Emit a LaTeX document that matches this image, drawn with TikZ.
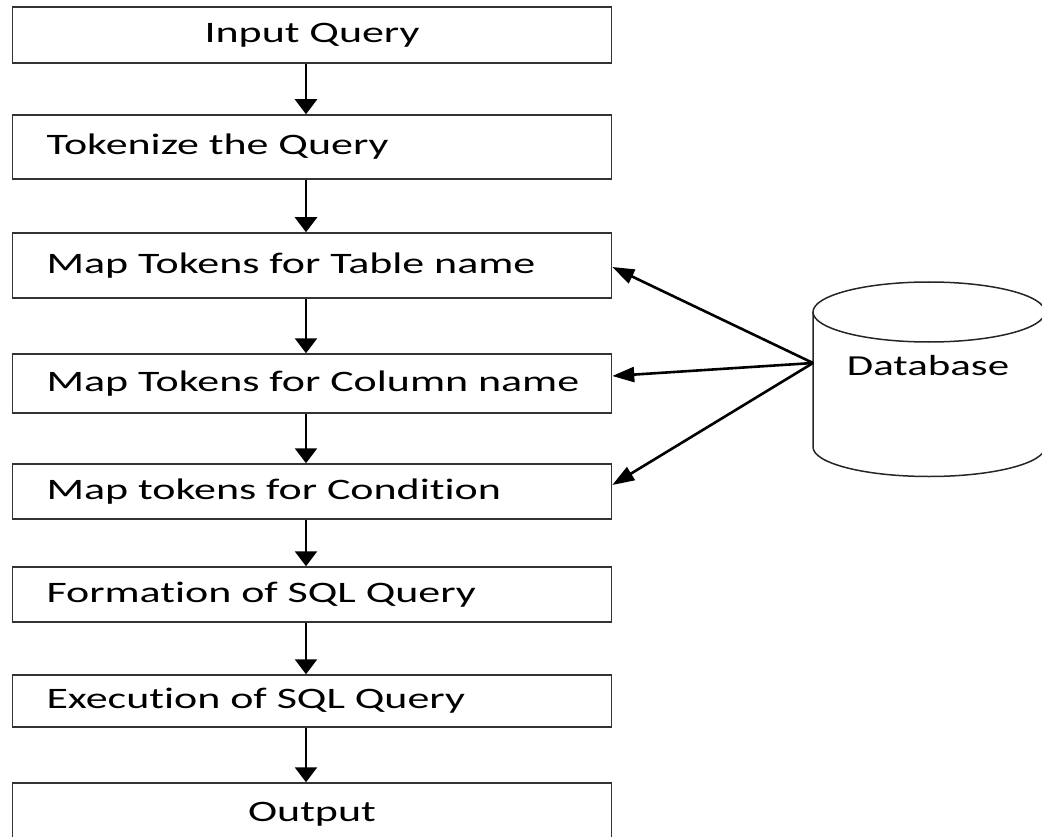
\documentclass[tikz,border=0pt]{standalone}
\usepackage{fontspec}
\setmainfont{Carlito}
\newfontfamily\wideface[FakeStretch=1.48, Ligatures=NoCommon]{Carlito}
\usetikzlibrary{arrows.meta}
\begin{document}
\begin{tikzpicture}[x=1pt, y=-1pt,
  stage/.style={draw=black!80, line width=1.5pt, minimum width=599pt, inner xsep=34pt, inner ysep=0pt, text width=531pt, align=left, font=\wideface\fontsize{29.7}{34}\selectfont},
  midstage/.style={stage, align=center},
  flow/.style={line width=2.6pt, -{Triangle[length=15pt,width=22pt]}},
  lookup/.style={line width=2.6pt, -{Triangle[length=22pt,width=15pt]}}]
\useasboundingbox (0,0) rectangle (1042,837);
\clip (0,0) rectangle (1042,837);
\node[midstage, minimum height=56pt] (input) at (312,35) {Input Query};
\node[stage, minimum height=64pt] (tokenize) at (312,147) {Tokenize the Query};
\node[stage, minimum height=65pt] (table) at (312,265.5) {Map Tokens for Table name};
\node[stage, minimum height=59pt] (column) at (312,383.5) {\mbox{Map Tokens for Column name}};
\node[stage, minimum height=55pt] (condition) at (312,491.5) {Map tokens for Condition};
\node[stage, minimum height=55pt] (formation) at (312,594.5) {Formation of SQL Query};
\node[stage, minimum height=52pt] (execution) at (312,701) {Execution of SQL Query};
\node[midstage, minimum height=62pt] (output) at (312,814) {Output};
\draw[line width=1.5pt, black!85] (929,312) ellipse [x radius=116pt, y radius=30pt];
\draw[line width=1.5pt, black!85] (813,312) -- (813,447) arc[start angle=180, end angle=360, x radius=116pt, y radius=29.5pt] -- (1045,312);
\node[font=\wideface\fontsize{29}{34}\selectfont] (db) at (928,366) {Database};
\coordinate (dbport) at (813,363);
\foreach \a/\b in {input/tokenize, tokenize/table, table/column, column/condition, condition/formation, formation/execution, execution/output}
  \draw[flow] ([xshift=-6pt]\a.south) -- ([xshift=-6pt]\b.north);
\draw[lookup] (dbport) -- ([yshift=-1.5pt]table.east);
\draw[lookup] (dbport) -- ([yshift=7.5pt]column.east);
\draw[lookup] (dbport) -- ([yshift=6.5pt]condition.east);
\end{tikzpicture}
\end{document}
